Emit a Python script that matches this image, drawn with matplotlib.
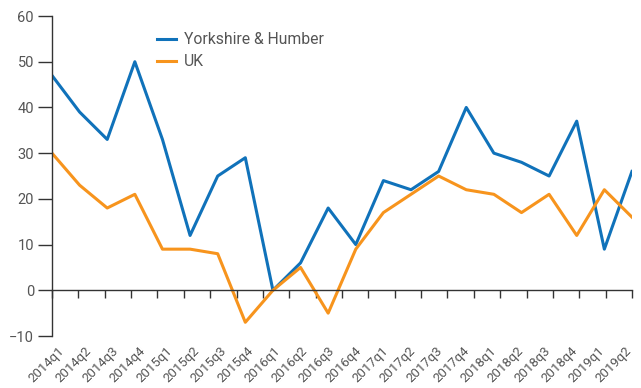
import numpy as np
import matplotlib.pyplot as plt

plt.rcParams['font.family'] = ['Roboto', 'DejaVu Sans']

quarters = ['2014q1', '2014q2', '2014q3', '2014q4',
            '2015q1', '2015q2', '2015q3', '2015q4',
            '2016q1', '2016q2', '2016q3', '2016q4',
            '2017q1', '2017q2', '2017q3', '2017q4',
            '2018q1', '2018q2', '2018q3', '2018q4',
            '2019q1', '2019q2']
yorkshire = [47, 39, 33, 50, 33, 12, 25, 29, 0, 6, 18, 10,
             24, 22, 26, 40, 30, 28, 25, 37, 9, 26]
uk = [30, 23, 18, 21, 9, 9, 8, -7, 0, 5, -5, 9,
      17, 21, 25, 22, 21, 17, 21, 12, 22, 16]

blue = '#1072ba'
orange = '#f7941d'
grey = '#555555'
axis_col = '#333333'

x = np.arange(len(quarters))

fig = plt.figure(figsize=(6.41, 3.88), dpi=100)
ax = fig.add_axes([0.0811, 0.134, 0.9048, 0.8247])

ax.plot(x, yorkshire, color=blue, lw=2.2, label='Yorkshire & Humber')
ax.plot(x, uk, color=orange, lw=2.2, label='UK')

ax.set_xlim(0, len(quarters) - 1)
ax.set_ylim(-10, 60)
ax.set_yticks(np.arange(-10, 61, 10))

for s in ['top', 'right']:
    ax.spines[s].set_visible(False)
ax.spines['bottom'].set_position(('data', 0))
for s in ['left', 'bottom']:
    ax.spines[s].set_color(axis_col)
    ax.spines[s].set_linewidth(1.0)

ax.tick_params(axis='y', length=10, width=1.0, color=axis_col,
               labelsize=10.5, labelcolor=grey, pad=3)

# tick marks on a 23-step grid, labels sit slightly offset from them
ax.set_xticks(np.linspace(0, len(quarters) - 1, len(quarters) + 1), minor=True)
ax.tick_params(axis='x', which='minor', length=6, width=1.0, color=axis_col)
label_pos = (10 + 27.0 * x) / 27.62
ax.set_xticks(label_pos, quarters)
ax.tick_params(axis='x', which='major', length=0, pad=42,
               labelsize=9.5, labelcolor=grey)
for lab in ax.get_xticklabels():
    lab.set_rotation(45)
    lab.set_ha('right')
    lab.set_va('center')
    lab.set_rotation_mode('anchor')

ax.legend(loc='upper left', bbox_to_anchor=(0.181, 0.95), frameon=False,
          borderaxespad=0, borderpad=0, handlelength=1.2, handletextpad=0.5,
          labelspacing=0.45, prop={'size': 11.3}, labelcolor=grey)

fig.savefig('out.png', dpi=100)
